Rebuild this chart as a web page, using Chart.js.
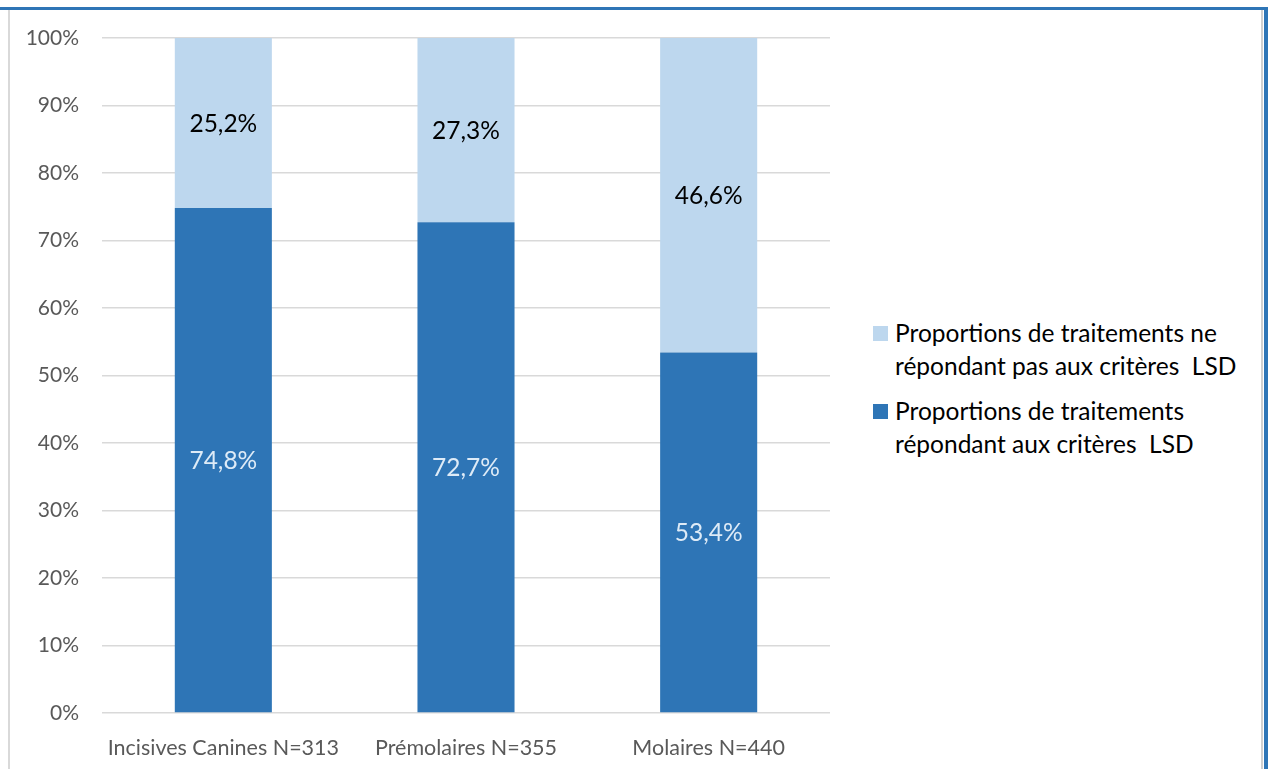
<!DOCTYPE html>
<html>
<head>
<meta charset="utf-8">
<script src="https://cdn.jsdelivr.net/npm/chart.js@4"></script>
<style>
  body { margin:0; background:#fff; width:1268px; height:769px; overflow:hidden; position:relative; font-family: Lato, "Noto Sans", sans-serif; }
  #topline { position:absolute; left:0; top:7px; width:1268px; height:3px; background:#2E75B6; }
  #leftline { position:absolute; left:8px; top:10px; width:2px; height:759px; background:#d9d9d9; }
  #rightgray { position:absolute; left:1261px; top:10px; width:2px; height:759px; background:#d0d0d0; }
  #rightblue { position:absolute; left:1264px; top:7px; width:4px; height:762px; background:#2E75B6; }
  #wrap { position:absolute; left:0; top:0; width:860px; height:769px; }
  #legend { position:absolute; left:873px; top:316px; }
  .item { display:flex; align-items:flex-start; margin-bottom:12px; }
  .box { width:15px; height:15px; margin-top:10px; margin-right:7px; }
  .txt { font-size:24.5px; line-height:33px; color:#000; white-space:pre; }
</style>
</head>
<body>
<div id="topline"></div>
<div id="leftline"></div>
<div id="rightgray"></div>
<div id="rightblue"></div>
<div id="wrap"><canvas id="barchart" width="860" height="769"></canvas></div>
<div id="legend"></div>
<script>
/* Data */
const categories = ['Incisives Canines N=313', 'Prémolaires N=355', 'Molaires N=440'];
const okValues = [74.8, 72.7, 53.4];
const notOkValues = [25.2, 27.3, 46.6];
const okLabel = ['Proportions de traitements', 'répondant aux critères  LSD'];
const notOkLabel = ['Proportions de traitements ne', 'répondant pas aux critères  LSD'];
const yTicks = [0, 10, 20, 30, 40, 50, 60, 70, 80, 90, 100];

const fontFamily = 'Lato, "Noto Sans", sans-serif';

// Draws the value in the middle of each bar segment
const valueLabels = {
    id: 'valueLabels',
    afterDatasetsDraw(chart){
        const ctx = chart.ctx;
        ctx.save();
        ctx.font = '24.5px ' + fontFamily;
        ctx.textAlign = 'center';
        ctx.textBaseline = 'middle';
        chart.data.datasets.forEach((ds, i) => {
            const meta = chart.getDatasetMeta(i);
            meta.data.forEach((bar, j) => {
                const p = bar.getProps(['x', 'y', 'base'], true);
                ctx.fillStyle = ds.labelColor;
                const txt = ds.data[j].toFixed(1).replace('.', ',') + '%';
                ctx.fillText(txt, p.x, (p.y + p.base) / 2 + 1);
            });
        });
        ctx.restore();
    }
};

const chart = new Chart('barchart', {
    type: 'bar',
    data: {
        labels: categories,
        datasets: [{
            label: okLabel.join(' '),
            lines: okLabel,
            data: okValues,
            backgroundColor: '#2E75B6',
            labelColor: '#DEEBF7'
        }, {
            label: notOkLabel.join(' '),
            lines: notOkLabel,
            data: notOkValues,
            backgroundColor: '#BDD7EE',
            labelColor: '#000000'
        }]
    },
    options: {
        responsive: false,
        animation: false,
        barPercentage: 0.4,
        categoryPercentage: 1,
        layout: { padding: { top: 38, left: 0, right: 30, bottom: 0 } },
        plugins: { legend: { display: false }, tooltip: { enabled: false } },
        scales: {
            x: {
                stacked: true,
                grid: { display: false },
                border: { display: false },
                ticks: { color: '#595959', font: { family: fontFamily, size: 21.5 }, padding: 14 },
                afterFit: (scale) => { scale.height = 56; }
            },
            y: {
                stacked: true,
                min: 0,
                max: 100,
                afterBuildTicks: (scale) => { scale.ticks = yTicks.map(v => ({ value: v })); },
                grid: { color: '#d9d9d9', lineWidth: 1.6, drawTicks: false },
                border: { display: false },
                ticks: {
                    color: '#595959',
                    font: { family: fontFamily, size: 21 },
                    padding: 23,
                    callback: (v) => v + '%'
                },
                afterFit: (scale) => { scale.width = 102; }
            }
        }
    },
    plugins: [valueLabels]
});

// Legend built from the datasets, top segment first
const legend = document.getElementById('legend');
chart.data.datasets.slice().reverse().forEach((ds) => {
    const item = document.createElement('div');
    item.className = 'item';
    const box = document.createElement('div');
    box.className = 'box';
    box.style.background = ds.backgroundColor;
    const txt = document.createElement('div');
    txt.className = 'txt';
    txt.textContent = ds.lines.join('\n');
    item.appendChild(box);
    item.appendChild(txt);
    legend.appendChild(item);
});
</script>
</body>
</html>
